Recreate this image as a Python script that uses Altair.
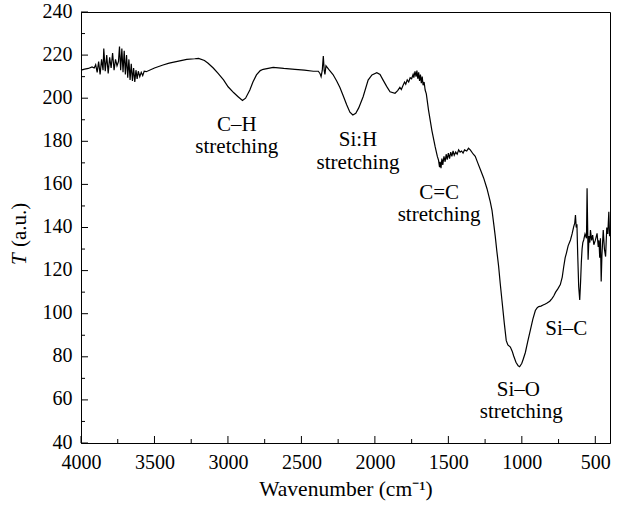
import altair as alt
import pandas as pd

# ---- spectrum ----
wavenumber = [
    4000, 3975, 3950, 3925, 3910, 3900, 3890, 3880, 3870, 3860, 3850, 3845, 3835, 3825, 3815, 3805,
    3795, 3785, 3775, 3765, 3755, 3745, 3738, 3730, 3722, 3714, 3706, 3698, 3690, 3682, 3674, 3666,
    3658, 3650, 3642, 3634, 3626, 3618, 3610, 3600, 3590, 3580, 3570, 3556, 3500, 3442, 3400, 3328,
    3280, 3226, 3200, 3160, 3135, 3100, 3067, 3030, 2999, 2960, 2931, 2901, 2880, 2851, 2830, 2806,
    2780, 2760, 2692, 2620, 2544, 2480, 2419, 2385, 2374, 2366, 2358, 2351, 2345, 2340, 2333, 2310,
    2285, 2260, 2238, 2215, 2192, 2170, 2150, 2130, 2110, 2080, 2046, 2020, 1987, 1965, 1944, 1920,
    1897, 1863, 1845, 1830, 1820, 1808, 1798, 1790, 1780, 1770, 1760, 1750, 1740, 1735, 1727, 1720,
    1714, 1708, 1702, 1696, 1690, 1684, 1678, 1672, 1665, 1658, 1650, 1635, 1612, 1590, 1575, 1567,
    1560, 1556, 1550, 1544, 1538, 1530, 1522, 1515, 1508, 1500, 1492, 1484, 1476, 1468, 1460, 1450,
    1440, 1430, 1420, 1410, 1400, 1390, 1375, 1363, 1351, 1330, 1317, 1300, 1283, 1260, 1237, 1215,
    1203, 1190, 1181, 1170, 1158, 1147, 1135, 1120, 1106, 1095, 1078, 1065, 1056, 1040, 1025, 1015,
    1000, 990, 976, 960, 942, 925, 908, 895, 885, 870, 855, 840, 828, 810, 795, 783,
    770, 755, 738, 725, 715, 705, 697, 685, 669, 658, 647, 640, 635, 630, 625, 620,
    613, 606, 600, 595, 590, 585, 579, 570, 560, 556, 552, 549, 543, 537, 533, 525,
    518, 510, 500, 488, 480, 475, 470, 465, 460, 455, 446, 438, 430, 422, 415, 408,
    403, 400,
]
transmittance = [
    213.0, 213.5, 213.8, 214.5, 214.0, 215.5, 212.0, 217.0, 211.0, 218.0, 213.0, 223.0, 212.5, 220.0, 211.5, 219.0,
    214.0, 221.0, 213.0, 218.0, 215.0, 217.0, 224.0, 213.0, 223.0, 212.0, 222.0, 211.0, 220.0, 209.5, 218.0, 208.5,
    216.0, 208.0, 214.0, 207.5, 213.0, 209.0, 212.5, 210.0, 212.0, 210.5, 212.5, 212.3, 214.0, 215.4, 216.3, 217.3,
    218.0, 218.3, 218.5, 217.5, 216.2, 214.0, 211.5, 208.5, 205.3, 202.5, 200.7, 198.9, 200.0, 203.8, 207.5, 210.8,
    212.8, 213.4, 214.3, 213.8, 213.4, 213.0, 212.5, 212.5, 211.5, 210.0, 213.0, 219.6, 213.0, 211.0, 215.0, 213.0,
    211.0, 208.0, 205.0, 201.0, 197.0, 193.5, 192.2, 193.0, 195.5, 200.7, 208.4, 210.8, 211.8, 211.0, 208.4, 205.5,
    203.0, 202.3, 203.5, 205.0, 204.0, 206.0, 207.5, 206.5, 208.5, 207.5, 209.5, 209.0, 211.0, 209.5, 212.5, 210.0,
    212.8, 209.0, 212.0, 208.0, 211.0, 207.0, 210.0, 206.0, 207.5, 203.8, 202.0, 194.5, 185.0, 177.5, 173.0, 171.3,
    168.0, 170.5, 167.5, 172.0, 169.0, 173.0, 170.5, 174.0, 171.5, 174.5, 172.0, 175.0, 173.0, 175.5, 173.5, 175.0,
    174.0, 176.0, 175.0, 175.5, 174.5, 176.0, 175.5, 176.8, 176.0, 174.0, 173.0, 170.0, 167.0, 163.0, 158.0, 152.0,
    148.0, 141.0, 136.0, 129.0, 122.0, 114.0, 106.0, 96.0, 87.5, 85.5, 84.5, 82.5, 80.5, 77.5, 75.8, 75.4,
    77.0, 79.0, 82.0, 87.0, 92.4, 97.5, 101.5, 102.8, 103.3, 103.5, 104.0, 104.5, 105.0, 105.8, 107.0, 108.2,
    110.0, 111.5, 113.5, 117.0, 121.8, 126.0, 128.0, 131.5, 134.2, 137.0, 140.4, 142.0, 145.8, 140.0, 141.5, 128.0,
    112.5, 106.4, 115.0, 124.0, 130.0, 133.0, 134.2, 137.0, 135.0, 158.2, 140.0, 125.0, 136.0, 133.0, 138.8, 134.0,
    136.5, 132.0, 134.0, 137.3, 131.0, 134.0, 126.0, 135.0, 114.9, 127.0, 138.8, 130.0, 126.5, 140.0, 137.0, 147.3,
    136.0, 138.0,
]

# ---- annotations ----
ann_text = ["C\u2013H", "stretching", "Si:H", "stretching", "C=C", "stretching",
            "Si\u2013O", "stretching", "Si\u2013C"]
ann_wn = [2940, 2940, 2115, 2115, 1563, 1563, 1024, 1004, 697]
ann_t = [187.6, 177.4, 180.6, 169.9, 156.0, 145.8, 64.6, 54.4, 92.9]

# ---- ticks ----
x_major = [4000, 3500, 3000, 2500, 2000, 1500, 1000, 500]
x_minor = [3750, 3250, 2750, 2250, 1750, 1250, 750]
y_major = [40, 60, 80, 100, 120, 140, 160, 180, 200, 220, 240]
y_minor = [50, 70, 90, 110, 130, 150, 170, 190, 210, 230]

W, H = 529, 431
FONT = "Liberation Serif"
FS_LAB = 20
FS_ANN = 21
FS_TITLE = 21.5

spec = pd.DataFrame({"wn": wavenumber, "T": transmittance})
ann = pd.DataFrame({"wn": ann_wn, "T": ann_t, "label": ann_text})

xscale = alt.Scale(domain=[400, 4000], reverse=True, nice=False, zero=False)
yscale = alt.Scale(domain=[40, 240], nice=False, zero=False)

xaxis = alt.Axis(values=x_major, format="d", title="Wavenumber (cm\u207b\u00b9)",
                 ticks=False, tickSize=0, labelPadding=9, titlePadding=6,
                 labelFlush=False, labelOverlap=False, grid=False)
yaxis = alt.Axis(values=y_major, format="d", title=None,
                 ticks=False, tickSize=0, labelPadding=9, labelOffset=-1,
                 labelFlush=False, labelOverlap=False, grid=False)

line = alt.Chart(spec).mark_line(color="black", strokeWidth=1.2).encode(
    x=alt.X("wn:Q", scale=xscale, axis=xaxis),
    y=alt.Y("T:Q", scale=yscale, axis=yaxis),
)

def xticks(vals, length):
    return alt.Chart(pd.DataFrame({"wn": vals})).mark_rule(color="black", strokeWidth=1).encode(
        x=alt.X("wn:Q", scale=xscale, axis=xaxis),
        y=alt.value(H), y2=alt.value(H - length))

def yticks(vals, length):
    return alt.Chart(pd.DataFrame({"T": vals})).mark_rule(color="black", strokeWidth=1).encode(
        y=alt.Y("T:Q", scale=yscale, axis=yaxis),
        x=alt.value(0), x2=alt.value(length))

labels = alt.Chart(ann).mark_text(font=FONT, fontSize=FS_ANN, color="black",
                                  align="center", baseline="middle").encode(
    x=alt.X("wn:Q", scale=xscale, axis=xaxis),
    y=alt.Y("T:Q", scale=yscale, axis=yaxis),
    text="label:N")

ytitle_T = alt.Chart(pd.DataFrame({"t": ["T"]})).mark_text(
    font=FONT, fontSize=FS_ANN, fontStyle="italic", color="black", angle=270,
    align="left", baseline="middle").encode(
    x=alt.value(-61), y=alt.value(253), text="t:N")
ytitle_rest = alt.Chart(pd.DataFrame({"t": ["(a.u.)"]})).mark_text(
    font=FONT, fontSize=FS_ANN, color="black", angle=270,
    align="left", baseline="middle").encode(
    x=alt.value(-61), y=alt.value(235), text="t:N")

chart = alt.layer(
    line, xticks(x_major, 7), xticks(x_minor, 4), yticks(y_major, 7), yticks(y_minor, 4),
    labels, ytitle_T, ytitle_rest,
).properties(
    width=W, height=H,
    autosize=alt.AutoSizeParams(type="none"),
    padding={"left": 81, "top": 12, "right": 9, "bottom": 64},
    background="white",
).configure_view(
    stroke="black", strokeWidth=1
).configure_axis(
    domainColor="black", domainWidth=1,
    labelFont=FONT, labelFontSize=FS_LAB, labelColor="black",
    titleFont=FONT, titleFontSize=FS_TITLE, titleColor="black", titleFontWeight="normal",
)

chart.save("out.html", embed_options={"renderer": "svg", "actions": False})
